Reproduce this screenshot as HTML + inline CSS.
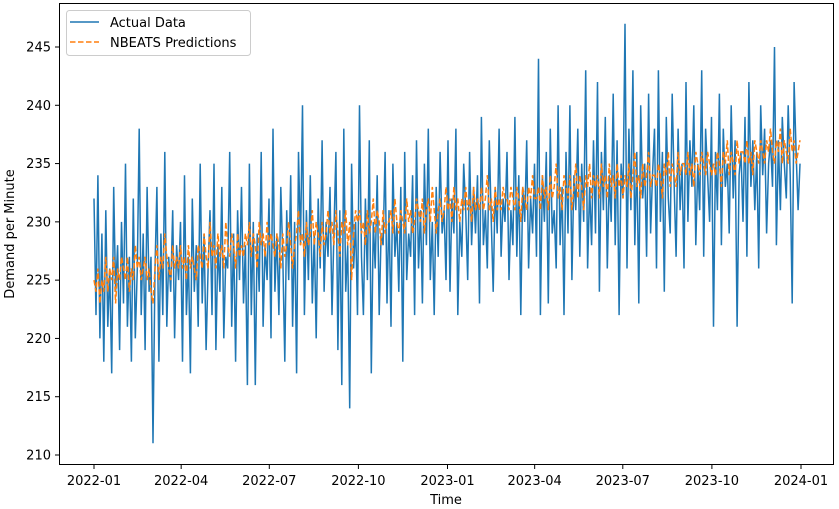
<!DOCTYPE html>
<html><head><meta charset="utf-8"><style>
body{margin:0;background:#fff}
svg{display:block;font-family:"DejaVu Sans","Liberation Sans",sans-serif}
</style></head><body>
<svg id="chart" width="839" height="509" viewBox="0 0 839 509">
<rect x="0" y="0" width="839" height="509" fill="#fff"/>
<g id="marks"></g>
<rect x="59.5" y="3.5" width="774" height="461" fill="none" stroke="#000" stroke-width="1"/>
<g id="axes"></g>
<text x="446" y="504" text-anchor="middle" font-size="13">Time</text>
<text transform="translate(14,234) rotate(-90)" text-anchor="middle" font-size="13">Demand per Minute</text>
<g>
<rect x="66.5" y="10.5" width="184" height="45" rx="3" fill="#fff" fill-opacity="0.8" stroke="#ccc"/>
<line x1="70" y1="22" x2="99" y2="22" stroke="#1f77b4" stroke-width="1.5"/>
<text x="110" y="27" font-size="13">Actual Data</text>
<line x1="70" y1="42" x2="99" y2="42" stroke="#ff7f0e" stroke-width="1.5" stroke-dasharray="5.5,2.5"/>
<text x="110" y="47" font-size="13">NBEATS Predictions</text>
</g>
</svg>
<script>
const yTicks=[210,215,220,225,230,235,240,245];
const xTickLabels=["2022-01","2022-04","2022-07","2022-10","2023-01","2023-04","2023-07","2023-10","2024-01"];
const xTickDays=[0,90,181,273,365,455,546,638,730];
const actual=[232,222,234,220,229,218,231,221,226,217,233,224,228,219,230,
223,235,221,227,218,232,220,226,238,222,229,219,233,224,227,
211,226,233,218,229,222,236,221,227,224,231,220,228,225,230,
218,234,222,227,217,232,224,228,221,235,223,229,219,226,231,
222,235,219,228,224,233,220,227,226,236,221,229,218,231,225,
233,223,228,216,235,222,230,216,229,224,236,221,228,225,232,
220,238,224,229,222,233,227,218,231,225,234,221,230,217,236,
228,240,222,231,225,234,223,229,220,232,226,237,224,230,227,
233,222,229,236,219,231,216,238,224,228,214,235,226,230,222,
240,227,222,232,225,237,217,230,226,234,222,229,228,236,223,
231,221,235,227,230,224,233,218,236,225,229,227,234,222,237,
226,231,223,235,228,238,225,230,222,233,227,236,229,231,225,
237,224,232,229,238,222,230,227,235,231,225,236,228,233,229,
234,223,239,228,231,226,237,230,224,233,229,238,227,232,230,
236,225,231,228,239,227,234,222,233,230,237,226,232,229,235,
227,244,222,234,230,236,223,238,229,231,226,240,228,233,222,
236,229,240,225,234,231,238,227,235,230,243,226,233,228,237,
229,242,224,236,231,239,226,234,230,241,228,237,222,235,232,
247,226,238,231,243,228,236,223,240,232,235,227,241,229,234,
238,226,243,230,236,224,239,232,229,241,233,227,238,231,235,
226,242,230,237,233,240,228,235,231,243,227,238,234,230,239,
221,236,231,241,228,238,233,235,229,240,232,237,221,234,236,
230,239,227,242,233,237,231,236,226,240,234,238,229,235,237,
233,245,228,237,231,239,235,232,240,234,223,242,236,231,235];
const predicted=[225,224,226,223,225,224,227,224,226,225,227,223,226,225,227,
226,225,227,224,226,225,228,226,227,225,226,227,225,226,224,
223,226,228,225,227,226,229,227,226,225,228,226,227,226,228,
226,227,225,228,226,227,226,225,228,227,226,229,227,226,230,
227,228,226,229,227,228,226,230,228,227,229,228,226,229,227,
228,227,229,228,230,227,229,228,226,230,228,229,227,230,228,
229,228,227,229,228,226,229,227,228,230,228,226,228,229,231,
228,229,227,230,228,229,231,228,230,229,227,230,228,229,231,
229,230,228,231,229,227,230,229,231,228,230,225,229,231,230,
231,229,230,228,231,229,230,232,229,231,230,228,231,229,230,
230,231,229,232,230,229,231,230,229,232,230,231,229,230,232,
231,230,232,229,231,232,230,233,231,229,231,232,230,231,233,
231,232,230,233,231,232,230,232,231,233,231,232,230,233,231,
232,231,233,231,232,234,231,232,230,233,231,232,231,233,232,
232,231,233,232,231,233,232,230,233,232,231,233,232,234,232,
232,233,231,234,232,233,231,234,232,233,235,232,233,231,234,
233,232,234,231,233,235,232,234,233,231,234,233,235,232,234,
233,234,232,235,233,234,232,235,233,234,232,235,233,234,232,
234,233,235,232,234,236,233,234,232,235,233,234,236,233,234,
234,233,235,234,232,235,234,236,233,235,234,233,236,234,235,
235,234,236,234,235,233,236,235,234,236,235,234,236,235,234,
235,234,236,235,233,236,235,237,234,236,235,234,237,235,236,
236,235,237,235,236,234,237,236,235,237,236,235,237,236,238,
236,235,237,236,238,235,237,236,235,238,236,237,235,236,237];
const NS="http://www.w3.org/2000/svg";
const yScale=v=>455-(v-210)*(408/35);
const xDay=d=>94+d*(707/730);
const xIdx=(i,n)=>xDay(i*729/(n-1));
const marks=document.getElementById('marks');
const axes=document.getElementById('axes');
function line(arr,color,dash,name){
  const p=document.createElementNS(NS,'path');
  p.setAttribute('d',arr.map((v,i)=>(i?'L':'M')+xIdx(i,arr.length).toFixed(1)+' '+yScale(v).toFixed(1)).join(''));
  p.setAttribute('fill','none');p.setAttribute('stroke',color);p.setAttribute('stroke-width','1.5');
  if(dash)p.setAttribute('stroke-dasharray',dash);
  
  
  marks.appendChild(p);
}
line(actual,'#1f77b4',null,'actual-data-line');
line(predicted,'#ff7f0e','5.5,2.5','nbeats-predictions-line');
yTicks.forEach(v=>{
  const y=yScale(v);
  const t=document.createElementNS(NS,'line');
  t.setAttribute('x1',55);t.setAttribute('x2',59.5);t.setAttribute('y1',y);t.setAttribute('y2',y);t.setAttribute('stroke','#000');
  
  
  axes.appendChild(t);
  const l=document.createElementNS(NS,'text');
  l.setAttribute('x',51);l.setAttribute('y',y+4.5);l.setAttribute('text-anchor','end');l.setAttribute('font-size','13');
  l.textContent=v;
  
  
  axes.appendChild(l);
});
xTickDays.forEach((d,i)=>{
  const x=xDay(d);
  const t=document.createElementNS(NS,'line');
  t.setAttribute('x1',x);t.setAttribute('x2',x);t.setAttribute('y1',464.5);t.setAttribute('y2',469);t.setAttribute('stroke','#000');
  
  
  axes.appendChild(t);
  const l=document.createElementNS(NS,'text');
  l.setAttribute('x',x);l.setAttribute('y',485);l.setAttribute('text-anchor','middle');l.setAttribute('font-size','13');
  l.textContent=xTickLabels[i];
  
  
  axes.appendChild(l);
});
</script>
</body></html>
